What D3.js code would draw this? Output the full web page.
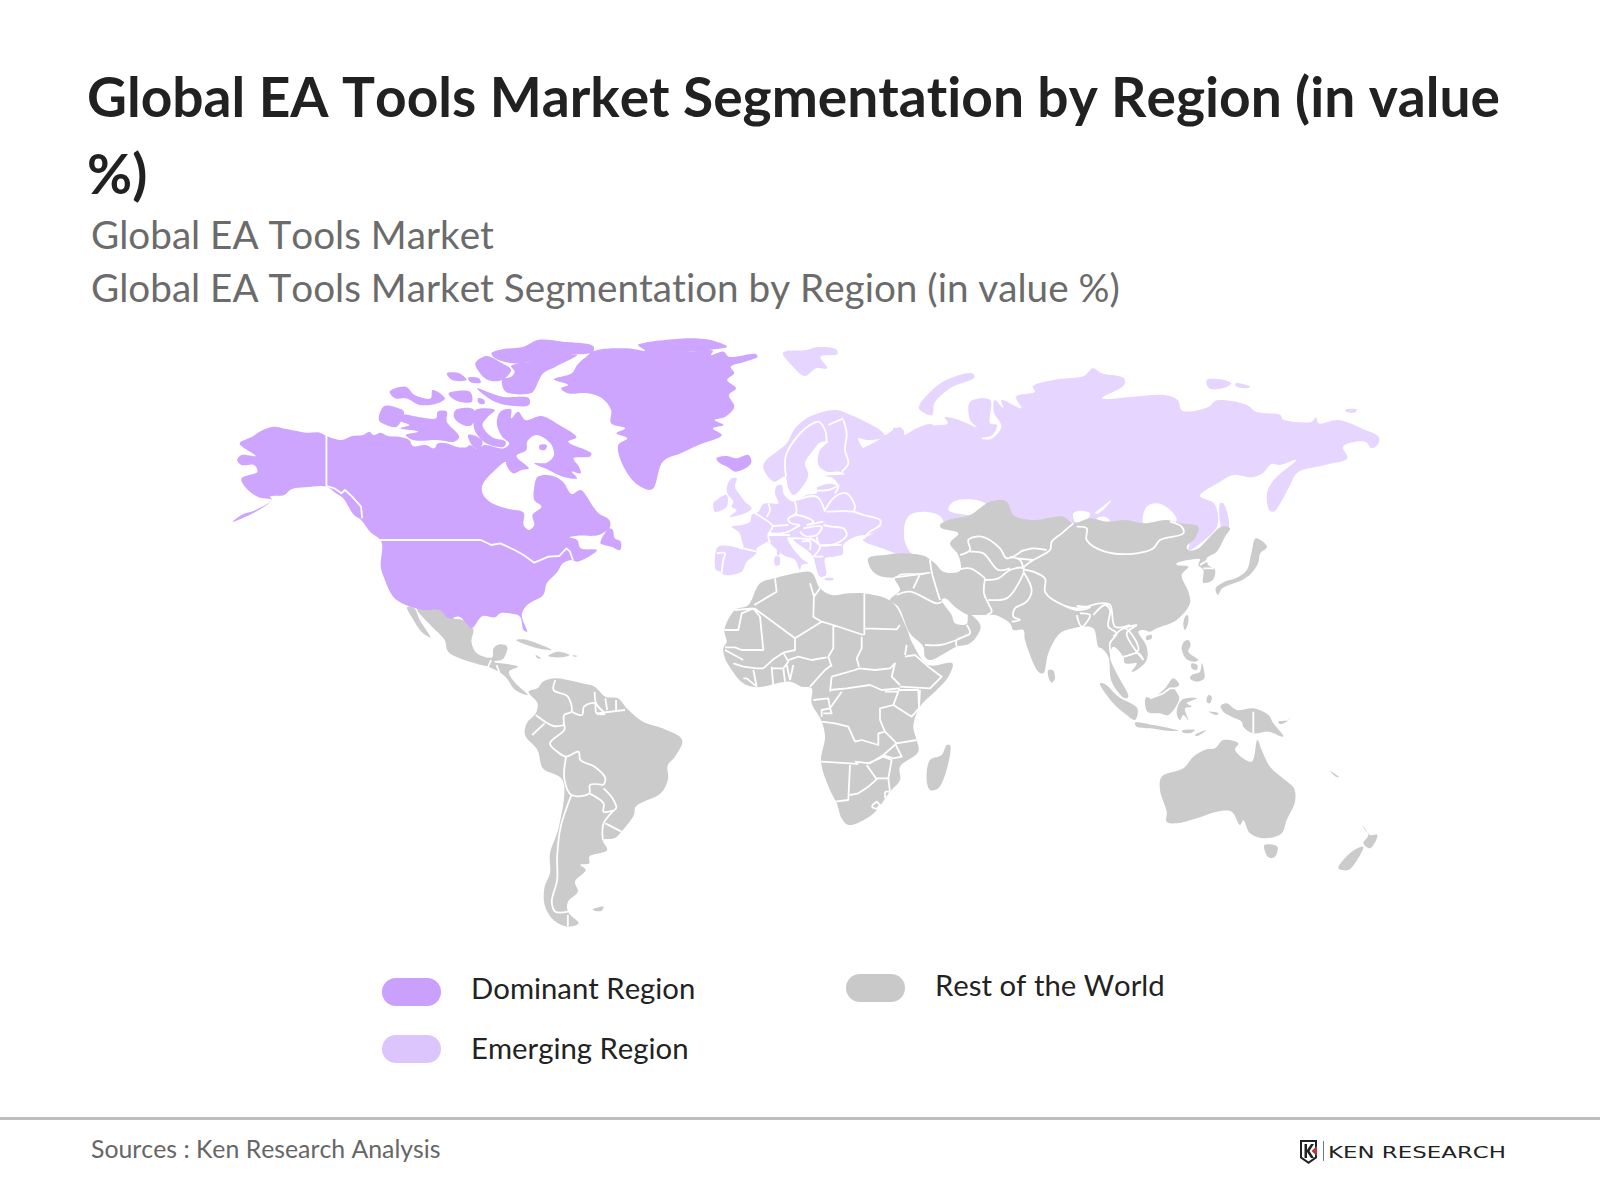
<!DOCTYPE html>
<html lang="en">
<head>
<meta charset="UTF-8">
<title>Global EA Tools Market Segmentation by Region</title>
<script src="https://cdnjs.cloudflare.com/ajax/libs/d3/7.8.5/d3.min.js"></script>
<style>
    body { margin: 0; background: #fff; }
    text { font-family: Lato, sans-serif; font-kerning: none; font-variant-ligatures: none; }
</style>
</head>
<body>
<div id="chart"></div>
<script>
// Texts
const titleLines = ["Global EA Tools Market Segmentation by Region (in value", "%)"];
const subtitleLines = ["Global EA Tools Market", "Global EA Tools Market Segmentation by Region (in value %)"];
const sourceText = "Sources : Ken Research Analysis";
const legendLabels = ["Dominant Region", "Emerging Region", "Rest of the World"];
const logoText = "KEN RESEARCH";

// Dominant region (sheet na)
const naMainland = [[36,575],[60,555],[100,540],[145,510],[105,500],[70,470],[60,445],[105,425],[95,405],[60,405],[48,390],[60,375],[100,378],[55,340],[90,320],[120,300],[150,290],[190,298],[240,308],[280,308],[298,318],[340,330],[370,318],[400,315],[418,305],[430,315],[450,308],[470,318],[500,320],[530,330],[540,348],[575,345],[600,355],[610,340],[635,340],[660,350],[690,352],[700,345],[722,358],[740,345],[795,355],[810,340],[790,320],[775,280],[785,245],[815,238],[815,265],[835,245],[855,270],[900,258],[950,285],[998,322],[975,335],[1040,370],[1035,380],[990,385],[1005,410],[1010,430],[985,425],[1000,445],[960,440],[920,420],[880,400],[915,398],[935,375],[925,340],[885,315],[860,335],[858,360],[830,378],[865,415],[845,420],[820,430],[802,405],[800,395],[770,420],[735,465],[735,490],[755,515],[800,535],[850,548],[850,585],[865,600],[880,585],[875,555],[900,530],[880,510],[880,470],[890,440],[930,437],[960,455],[985,492],[1010,480],[1045,530],[1060,550],[1090,570],[1092,590],[1060,615],[1000,617],[978,622],[1000,630],[1010,655],[1055,660],[1040,675],[1000,695],[985,690],[960,700],[945,725],[915,760],[905,795],[860,825],[845,855],[860,905],[850,900],[840,860],[810,850],[785,850],[770,862],[735,858],[705,895],[690,880],[670,860],[640,865],[615,840],[570,840],[520,825],[485,800],[460,745],[450,710],[452,635],[420,605],[395,570],[375,555],[345,505],[325,490],[298,470],[240,472],[200,478],[180,495],[140,500],[145,510],[100,545]];
const newfoundland = [[1065,640],[1090,595],[1100,600],[1105,625],[1122,635],[1120,660],[1095,650],[1075,645]];
const iceland = [[1390,385],[1420,378],[1445,385],[1480,375],[1487,400],[1445,425],[1420,410],[1400,400]];
const greenland = [[935,148],[985,130],[1000,105],[1020,85],[1050,62],[1140,55],[1190,62],[1170,45],[1190,38],[1330,25],[1390,35],[1420,50],[1310,65],[1380,62],[1375,75],[1410,65],[1425,80],[1500,72],[1505,80],[1470,95],[1430,110],[1440,130],[1420,150],[1445,175],[1425,195],[1440,230],[1415,260],[1385,270],[1410,285],[1380,295],[1405,315],[1340,345],[1290,370],[1240,395],[1210,478],[1170,465],[1130,410],[1115,345],[1140,325],[1110,310],[1135,295],[1095,280],[1095,240],[1070,205],[1030,190],[975,190],[955,175],[975,165]];
const arcticIslands = [
    [[760,70],[790,58],[850,50],[890,30],[960,35],[1045,48],[1045,65],[1020,72],[980,72],[1000,75],[940,110],[905,130],[880,180],[870,190],[800,185],[790,150],[815,140],[825,125],[815,108],[870,95],[820,100],[770,85]],
    [[715,100],[745,78],[790,100],[815,120],[790,150],[750,150],[725,125]],
    [[635,130],[670,130],[690,150],[650,150]],
    [[695,143],[725,145],[730,158],[700,155]],
    [[475,185],[520,170],[545,195],[590,205],[595,180],[630,205],[610,220],[560,225],[520,205],[490,205]],
    [[640,190],[700,185],[705,215],[670,215],[650,205]],
    [[720,175],[790,200],[865,205],[865,225],[800,225],[760,210]],
    [[722,205],[740,210],[740,222],[725,220]],
    [[445,270],[460,228],[500,235],[515,245],[495,290],[465,285]],
    [[510,255],[560,262],[605,265],[610,245],[635,245],[635,275],[670,320],[655,335],[610,330],[540,330],[520,315],[555,305],[505,295],[530,285],[500,270]],
    [[660,240],[710,238],[705,285],[680,285],[655,262]],
    [[715,240],[770,240],[750,260],[735,285],[760,320],[800,335],[795,350],[745,340],[715,305],[710,285]],
    [[695,315],[720,320],[735,335],[725,358],[705,345]],
    [[895,345],[915,345],[910,360],[895,358]]
];
const naBorders = [
    [[298,318],[298,468],[320,475],[340,490],[350,480],[370,500],[395,530],[398,565]],
    [[440,630],[730,630],[760,645],[785,640],[825,660],[850,675],[880,698],[920,680],[950,678],[970,655],[980,665],[988,690]]
];

// Emerging region (sheets eu and ru)
const europeMainland = [[170,455],[165,465],[140,485],[125,515],[75,525],[60,515],[48,510],[45,470],[55,440],[100,440],[130,448],[125,420],[118,398],[95,380],[125,375],[150,365],[155,345],[175,335],[190,312],[210,310],[235,310],[225,280],[230,258],[245,255],[250,280],[265,298],[280,305],[320,285],[350,280],[352,262],[390,250],[415,258],[400,235],[375,228],[435,222],[420,215],[380,215],[355,195],[360,150],[385,125],[360,128],[340,150],[315,190],[325,225],[300,270],[280,285],[265,265],[255,230],[222,245],[190,205],[195,185],[260,130],[285,85],[320,55],[370,35],[410,30],[445,42],[490,62],[540,90],[555,110],[500,120],[475,115],[490,145],[510,155],[540,125],[580,105],[580,85],[610,90],[615,108],[650,85],[700,75],[700,340],[660,335],[615,360],[610,395],[630,460],[605,460],[560,450],[525,420],[495,415],[520,400],[495,405],[465,410],[430,435],[428,462],[400,470],[375,475],[378,525],[360,530],[345,490],[340,470],[320,450],[285,425],[270,412],[262,412],[275,440],[310,480],[325,490],[305,495],[300,510],[285,480],[250,465],[215,435],[205,425],[190,432],[170,445]];
const europeIslands = [
    [[95,235],[110,235],[105,260],[120,285],[135,305],[155,325],[135,340],[90,350],[110,330],[95,320],[100,305],[85,285],[80,265]],
    [[50,300],[80,285],[80,320],[45,335],[40,310]],
    [[232,450],[238,450],[238,465],[232,465]],
    [[225,470],[238,470],[238,495],[225,495]],
    [[375,535],[400,535],[400,540],[375,540]]
];
const europeBorders = [
    [[50,460],[75,460],[70,480],[65,518]],
    [[130,445],[170,455]],
    [[165,340],[205,365],[218,378],[210,395],[205,405],[210,430]],
    [[205,310],[210,330],[200,350]],
    [[285,305],[288,340],[265,355],[270,368],[300,375]],
    [[218,378],[265,375]],
    [[205,400],[245,400],[265,395],[300,375]],
    [[290,300],[350,290],[375,335]],
    [[380,335],[460,335],[490,345],[540,360],[540,375],[510,395],[490,415]],
    [[375,330],[405,290],[440,280],[465,320],[460,335]],
    [[350,272],[385,270],[415,260],[405,280]],
    [[355,258],[390,248],[418,258]],
    [[430,60],[440,100],[435,150],[445,190],[425,215]],
    [[258,232],[258,165],[300,100],[330,75],[355,65],[375,90],[380,125]],
    [[385,75],[430,55]],
    [[265,355],[290,345],[340,365],[320,375]],
    [[320,375],[370,365]],
    [[310,385],[365,380],[350,405],[315,408],[300,395]],
    [[370,375],[395,380],[430,385],[440,405],[410,430],[360,435],[350,410]],
    [[365,435],[425,435]],
    [[370,470],[345,470]],
    [[270,415],[300,415],[345,420]],
    [[205,405],[245,405],[270,405]],
    [[330,415],[360,440],[340,470]],
    [[305,425],[330,425],[330,450]]
];
const russiaMainland = [[440,265],[450,262],[455,285],[480,270],[520,258],[555,250],[548,232],[580,240],[620,262],[605,240],[605,185],[650,180],[650,250],[665,255],[655,285],[630,295],[650,298],[675,260],[658,215],[660,180],[680,205],[675,180],[720,205],[708,170],[750,155],[745,140],[800,118],[860,108],[880,85],[900,100],[950,115],[950,135],[900,175],[970,170],[1040,165],[1070,180],[1080,212],[1140,200],[1155,182],[1225,195],[1245,215],[1300,225],[1305,238],[1370,245],[1380,232],[1385,250],[1430,240],[1490,270],[1520,290],[1520,310],[1505,325],[1490,305],[1440,320],[1450,355],[1400,375],[1338,398],[1320,440],[1285,515],[1275,510],[1270,460],[1285,420],[1335,360],[1300,375],[1280,372],[1260,400],[1235,412],[1195,405],[1165,425],[1120,468],[1150,488],[1160,520],[1158,560],[1130,600],[1095,630],[1100,580],[1050,560],[900,560],[830,560],[700,560],[560,560],[470,650],[420,630],[365,600],[405,580],[405,545],[350,500],[330,400],[340,350],[400,300]];
const russiaIslands = [
    [[490,205],[520,150],[560,115],[610,100],[615,112],[560,145],[525,190],[520,225]],
    [[186,38],[240,30],[260,22],[305,28],[308,42],[270,50],[285,85],[260,85],[235,108],[205,75]],
    [[1135,120],[1165,118],[1190,130],[1170,145],[1140,145]],
    [[1200,130],[1232,140],[1225,145],[1200,138]],
    [[1445,210],[1470,208],[1470,215],[1450,217]],
    [[1165,490],[1172,490],[1185,560],[1172,585],[1165,550]]
];
// Inland water cut out of the Russian fill (sheet asia)
const inlandWaters = [
    [[135,70],[150,45],[190,35],[240,48],[260,90],[280,130],[300,200],[270,215],[215,180],[160,165],[135,125]],
    [[265,30],[280,5],[350,0],[385,20],[370,50],[320,45]],
    [[640,40],[660,32],[690,40],[680,60],[645,65]],
    [[710,55],[735,50],[750,62],[715,65]],
    [[850,70],[860,20],[890,10],[925,25],[950,60],[930,75],[900,75]],
    [[705,40],[730,18],[755,0],[735,25],[710,42]]
];

// Rest of the world (sheets asia, af, sa, sea, oc, ru)
const turkey = [[25,175],[75,165],[130,160],[205,175],[215,215],[180,220],[120,222],[105,232],[60,228],[35,210]];
const asiaMainland = [[205,178],[225,190],[250,215],[300,212],[295,165],[270,130],[295,100],[245,85],[240,75],[265,60],[330,45],[390,5],[440,5],[460,45],[520,60],[610,50],[640,70],[690,55],[740,65],[800,60],[850,70],[920,60],[960,70],[1015,80],[1005,115],[980,140],[985,150],[1010,148],[1085,80],[1110,85],[1095,110],[1070,155],[1040,175],[1045,195],[1065,210],[1058,240],[1030,248],[1030,210],[1015,195],[1020,178],[985,180],[950,190],[950,195],[985,200],[965,225],[985,275],[990,310],[950,360],[890,385],[870,395],[850,390],[835,395],[860,440],[860,480],[830,510],[815,515],[830,490],[795,490],[790,470],[760,440],[750,470],[770,520],[805,590],[795,595],[755,545],[745,470],[725,445],[715,440],[700,385],[665,380],[640,385],[600,400],[565,460],[550,520],[535,515],[495,420],[490,390],[460,390],[450,370],[405,345],[380,345],[340,345],[325,345],[290,325],[255,295],[245,300],[275,345],[285,370],[320,372],[325,340],[335,345],[362,380],[330,430],[290,440],[210,480],[195,470],[190,440],[150,400],[115,320],[90,300],[120,270],[105,235],[130,225],[200,220]];
const asiaIslands = [
    [[975,350],[983,345],[985,365],[975,390],[970,375]],
    [[858,410],[875,405],[875,415],[860,420]],
    [[565,510],[578,510],[585,535],[575,548],[565,530]]
];
const asiaBorders = [
    [[105,232],[180,222],[210,218]],
    [[180,222],[160,265]],
    [[110,285],[150,275],[230,310],[245,305]],
    [[210,180],[215,215],[240,300]],
    [[290,210],[330,205],[375,235]],
    [[375,235],[372,280],[385,310],[395,335],[380,345]],
    [[300,165],[330,150],[325,120],[365,110],[420,145],[440,175],[490,150]],
    [[330,155],[370,160],[415,210],[450,205]],
    [[375,240],[415,235],[450,210],[490,205],[470,260],[440,295],[385,300]],
    [[490,215],[515,270],[500,305],[465,325],[460,350],[480,360],[455,365]],
    [[640,70],[605,100],[575,125],[570,150],[520,180],[490,205],[520,215],[555,235],[555,275],[580,300],[650,325],[720,310],[750,315],[765,380],[810,375]],
    [[650,80],[680,85],[680,120],[735,155],[830,160],[880,145],[900,120],[970,100],[965,80],[930,65]],
    [[480,155],[520,145],[560,150]],
    [[470,175],[520,180]],
    [[450,170],[480,180],[490,205]],
    [[580,300],[650,330],[690,322],[650,318]],
    [[650,345],[665,380],[690,345],[660,340]],
    [[700,345],[735,315],[750,330],[745,380],[770,400],[750,430],[760,490]],
    [[790,385],[830,375],[800,400],[850,480]],
    [[760,410],[795,385],[835,450],[790,470]],
    [[795,470],[835,460],[850,480]],
    [[195,435],[240,435],[290,420],[320,405]],
    [[290,440],[290,420],[330,400],[320,375]],
    [[1020,195],[1060,170]],
    [[1030,205],[1060,205]]
];
const japan = [[1155,745],[1175,725],[1200,715],[1225,690],[1235,640],[1245,595],[1270,620],[1255,640],[1250,670],[1235,700],[1215,720],[1170,745],[1160,765]];
const africaMainland = [[28,180],[60,120],[100,105],[135,40],[180,25],[240,10],[290,8],[315,55],[350,75],[400,70],[445,70],[530,95],[575,175],[590,215],[640,285],[712,280],[700,320],[665,360],[615,410],[595,470],[605,510],[610,545],[555,590],[555,630],[525,665],[470,735],[400,765],[380,745],[365,700],[345,660],[318,575],[330,500],[318,450],[290,400],[290,355],[260,350],[225,335],[125,352],[85,340],[50,300],[30,265],[25,235],[35,215]];
const madagascar = [[695,525],[705,525],[700,580],[670,655],[645,660],[635,630],[645,570],[680,555]];
const africaBorders = [
    [[118,105],[185,65],[180,25]],
    [[60,120],[115,115]],
    [[115,115],[80,130],[70,180],[28,180]],
    [[115,115],[135,140],[145,240],[80,240],[60,232],[30,232]],
    [[30,240],[85,270]],
    [[118,115],[240,205],[320,155]],
    [[297,70],[295,140],[320,155],[355,165],[445,195]],
    [[285,40],[297,80],[315,55]],
    [[448,70],[448,195]],
    [[448,175],[545,178],[555,165]],
    [[440,200],[440,235],[425,265],[432,290]],
    [[355,165],[355,235],[340,260],[350,290]],
    [[240,205],[240,240],[205,248]],
    [[215,272],[250,260],[290,270],[335,262]],
    [[225,330],[235,285]],
    [[350,320],[420,300],[432,295]],
    [[285,350],[330,300],[350,285]],
    [[345,365],[350,320]],
    [[345,360],[395,355],[465,345],[500,360],[555,355]],
    [[432,295],[480,300],[525,295],[540,280],[530,320],[555,345]],
    [[570,260],[600,255],[640,290],[680,320],[645,355],[555,350]],
    [[575,225],[570,255]],
    [[615,360],[612,410]],
    [[550,360],[610,360],[612,415],[590,440],[535,405]],
    [[510,365],[550,365],[535,405],[495,415],[495,450],[510,485]],
    [[545,520],[605,510]],
    [[420,515],[440,510],[490,525],[490,490],[510,485],[545,520],[505,555],[465,580],[420,575]],
    [[320,455],[360,460],[400,470],[420,515]],
    [[318,575],[405,580],[430,582]],
    [[405,585],[400,690],[360,695]],
    [[405,675],[430,670],[460,650],[485,628],[455,585]],
    [[460,580],[505,560],[530,570],[520,625],[485,625]],
    [[520,625],[525,665]],
    [[540,520],[560,560],[535,565],[505,555]],
    [[472,705],[485,695],[495,705],[485,717],[472,712],[472,705]],
    [[510,665],[525,665],[525,682],[510,682],[510,665]],
    [[325,430],[350,430],[345,415],[380,365]],
    [[295,390],[340,385],[345,415],[320,420],[320,440]],
    [[145,295],[175,268],[205,248],[220,275],[205,295],[170,295]],
    [[170,290],[175,350]],
    [[205,295],[210,335]],
    [[215,285],[225,330]],
    [[115,300],[125,350]],
    [[55,280],[85,290],[125,295],[145,295]],
    [[85,325],[95,325],[125,350]]
];
const mexico = [[48,85],[120,88],[150,115],[175,120],[205,148],[200,185],[215,220],[258,232],[262,205],[280,193],[300,200],[288,237],[262,245],[300,252],[330,260],[305,275],[320,305],[358,345],[345,342],[320,328],[295,290],[250,262],[210,250],[135,215],[125,180],[85,135]];
const baja = [[20,82],[40,85],[55,120],[85,172],[60,155],[35,115]];
const caribbean = [
    [[325,180],[345,178],[395,195],[425,210],[385,205]],
    [[415,228],[440,215],[475,225],[450,232]],
    [[380,225],[395,235],[385,235]],
    [[485,225],[497,228],[487,230]],
    [[540,988],[570,980],[565,992],[545,992]]
];
const southAmerica = [[360,335],[385,325],[400,305],[435,295],[470,300],[510,310],[545,320],[575,350],[610,355],[635,385],[680,425],[735,445],[790,480],[770,530],[750,555],[750,600],[730,640],[660,680],[655,705],[620,755],[600,775],[568,780],[580,810],[530,830],[530,850],[505,855],[520,870],[490,905],[498,935],[470,965],[470,995],[500,1030],[470,1040],[430,1020],[405,975],[405,920],[420,880],[420,820],[445,740],[455,600],[400,565],[385,510],[350,465],[355,430],[380,400],[385,370]];
const americasBorders = [
    [[255,240],[245,265]],
    [[270,255],[280,282]],
    [[435,300],[430,330],[470,350],[480,395],[460,405],[460,435]],
    [[380,405],[430,438],[460,435]],
    [[405,430],[370,465]],
    [[480,395],[510,405],[515,380],[545,370],[550,400],[575,402]],
    [[545,335],[550,372],[575,400]],
    [[575,355],[580,390]],
    [[605,360],[605,390]],
    [[550,400],[630,390]],
    [[460,435],[460,450],[420,490],[440,515],[465,530],[500,515],[505,540],[545,560],[575,595],[570,615]],
    [[465,530],[460,595],[480,645],[530,640],[532,615],[570,615]],
    [[530,640],[570,670],[570,695],[605,685],[595,655],[570,625]],
    [[480,645],[450,740],[440,830],[440,900],[425,965],[435,995],[470,995]],
    [[470,1005],[470,1040]],
    [[605,685],[570,730],[568,780]],
    [[575,730],[620,755]]
];
const seAsiaIslands = [
    [[372,125],[385,120],[392,135],[385,155],[415,180],[405,185],[380,178],[365,145]],
    [[395,225],[420,215],[425,190],[433,235],[410,245],[390,235]],
    [[395,190],[412,195],[410,210],[395,205]],
    [[120,250],[135,252],[175,290],[232,325],[225,360],[200,345],[160,310]],
    [[225,368],[280,375],[355,392],[320,392],[270,385],[230,380]],
    [[365,392],[405,390],[395,398],[370,398]],
    [[405,405],[438,390],[430,398],[410,408]],
    [[258,292],[275,295],[315,265],[340,235],[358,255],[345,265],[358,295],[325,345],[300,340],[262,335]],
    [[365,300],[412,295],[380,310],[395,320],[375,325],[385,360],[370,345],[360,360],[350,340]],
    [[445,285],[455,290],[450,310],[440,305]],
    [[447,335],[475,340],[470,345]],
    [[482,318],[500,310],[530,330],[580,325],[625,345],[640,370],[670,410],[625,395],[580,400],[550,380],[545,365],[515,350],[490,335]],
    [[655,365],[685,360],[690,350],[680,365],[660,372]]
];
const seAsiaBorders = [
    [[270,295],[310,280],[330,265],[350,265]],
    [[580,335],[580,400]]
];
const oceania = [
    [[635,650],[700,625],[730,590],[770,568],[795,565],[820,540],[865,550],[855,570],[905,605],[922,540],[935,570],[960,620],[1005,660],[1032,685],[1035,725],[1010,780],[995,820],[945,835],[900,820],[880,780],[870,795],[845,755],[800,755],[740,775],[680,790],[650,785],[650,755],[630,690]],
    [[943,855],[982,860],[975,890],[955,892]],
    [[1232,790],[1260,825],[1282,825],[1260,865],[1240,850],[1255,825]],
    [[1165,925],[1205,875],[1240,860],[1215,910],[1195,930]],
    [[1140,632],[1168,652],[1158,650]]
];

const colors = { dominant: "#cda5fe", emerging: "#e6d6ff", rest: "#cbcbcb" };
const legendColors = ["#c9a0fc", "#dcc4fd", "#c9c9c9"];

const svg = d3.select("#chart").append("svg")
    .attr("width", 1600)
    .attr("height", 1200);

// One pair of scales per sheet: traced units to page position
function sheet(x, y, w, h, unitsW, unitsH) {
    return {
        x: d3.scaleLinear().domain([0, unitsW]).range([x, x + w]),
        y: d3.scaleLinear().domain([0, unitsH]).range([y, y + h])
    };
}
const sheets = {
    na: sheet(220, 330, 560, 320, 1568, 960),
    ru: sheet(700, 340, 700, 300, 1568, 900),
    sa: sheet(400, 580, 560, 360, 1568, 1080),
    oc: sheet(950, 560, 450, 340, 1350, 1020),
    eu: sheet(700, 400, 240, 200, 720, 600),
    asia: sheet(860, 500, 400, 200, 1200, 600),
    af: sheet(715, 570, 260, 270, 780, 810),
    sea: sheet(1060, 600, 240, 160, 720, 480)
};

// Rounded outlines, the traced corners are coarser than the coastlines
function outline(name, curve) {
    const s = sheets[name];
    return d3.line().x(p => s.x(p[0])).y(p => s.y(p[1])).curve(curve);
}
const closedCurve = d3.curveCatmullRomClosed.alpha(0.5);
const openCurve = d3.curveCatmullRom.alpha(0.5);

// Order matters: the grey sits on top of the light purple
const landLayers = [
    ["eu", colors.emerging, [europeMainland, ...europeIslands]],
    ["ru", colors.emerging, [russiaMainland, ...russiaIslands]],
    ["asia", "#fff", inlandWaters],
    ["asia", colors.rest, [turkey, asiaMainland, ...asiaIslands]],
    ["ru", colors.rest, [japan]],
    ["af", colors.rest, [africaMainland, madagascar]],
    ["sa", colors.rest, [mexico, baja, southAmerica, ...caribbean]],
    ["sea", colors.rest, seAsiaIslands],
    ["oc", colors.rest, oceania],
    ["na", colors.dominant, [naMainland, newfoundland, iceland, greenland, ...arcticIslands]]
];
// Africa and the Canada borders are mostly straight runs
const borderLayers = [
    ["eu", europeBorders, openCurve],
    ["asia", asiaBorders, openCurve],
    ["af", africaBorders, d3.curveLinear],
    ["sa", americasBorders, openCurve],
    ["sea", seAsiaBorders, d3.curveLinear],
    ["na", naBorders, d3.curveLinear]
];

const map = svg.append("g");
map.selectAll("path.land")
    .data(landLayers)
    .join("path")
    .attr("class", "land")
    .attr("d", d => d[2].map(outline(d[0], closedCurve)).join(""))
    .attr("fill", d => d[1])
    .attr("stroke", "none");
map.selectAll("path.border")
    .data(borderLayers)
    .join("path")
    .attr("class", "border")
    .attr("d", d => d[1].map(outline(d[0], d[2])).join(""))
    .attr("fill", "none")
    .attr("stroke", "#fff")
    .attr("stroke-width", 1.8)
    .attr("stroke-linejoin", "round");

// Title block
svg.selectAll("text.title")
    .data(titleLines)
    .join("text")
    .attr("class", "title")
    .attr("x", 87)
    .attr("y", (d, i) => 117 + i * 77)
    .attr("font-size", 55.1)
    .attr("font-weight", 700)
    .attr("fill", "#212121")
    .text(d => d);
svg.selectAll("text.subtitle")
    .data(subtitleLines)
    .join("text")
    .attr("class", "subtitle")
    .attr("x", 91)
    .attr("y", (d, i) => 249 + i * 53)
    .attr("font-size", 38.65)
    .attr("fill", "#6b6b6b")
    .text(d => d);

// Legend
const legendPos = [[382, 978], [382, 1035], [846, 974]];
const legendBaseline = [21, 24, 22];
const legend = svg.selectAll("g.legend")
    .data(legendLabels)
    .join("g")
    .attr("class", "legend")
    .attr("transform", (d, i) => `translate(${legendPos[i][0]},${legendPos[i][1]})`);
legend.append("rect")
    .attr("width", 59)
    .attr("height", 28)
    .attr("rx", 14)
    .attr("fill", (d, i) => legendColors[i]);
legend.append("text")
    .attr("x", 89)
    .attr("y", (d, i) => legendBaseline[i])
    .attr("font-size", 29.3)
    .attr("fill", "#222")
    .text(d => d);

// Footer
svg.append("rect")
    .attr("x", 0)
    .attr("y", 1117)
    .attr("width", 1600)
    .attr("height", 3)
    .attr("fill", "#bfbfbf");
svg.append("text")
    .attr("x", 91)
    .attr("y", 1158)
    .attr("font-size", 24.8)
    .attr("fill", "#666")
    .text(sourceText);

// Logo mark
const logo = svg.append("g").attr("transform", "translate(1299,1139)");
logo.append("path")
    .attr("d", "M1,1H18V19L9.5,25L1,19Z M3,3V18L9.5,22.5L16,18V3Z")
    .attr("fill", "#222")
    .attr("fill-rule", "evenodd");
logo.append("path")
    .attr("d", "M5.5,5H8V11L12,5H15L10.5,12L15,19H12L8,13V19H5.5Z")
    .attr("fill", "#222");
logo.append("path")
    .attr("d", "M18,7V17L12.5,12Z")
    .attr("fill", "#b8323f");
logo.append("rect")
    .attr("x", 24)
    .attr("y", 2)
    .attr("width", 1)
    .attr("height", 20)
    .attr("fill", "#777");
svg.append("text")
    .attr("x", 1328)
    .attr("y", 1158)
    .style("font-family", "'DejaVu Sans', sans-serif")
    .attr("font-size", 15.5)
    .attr("textLength", 178)
    .attr("lengthAdjust", "spacingAndGlyphs")
    .attr("fill", "#222")
    .text(logoText);
</script>
</body>
</html>
